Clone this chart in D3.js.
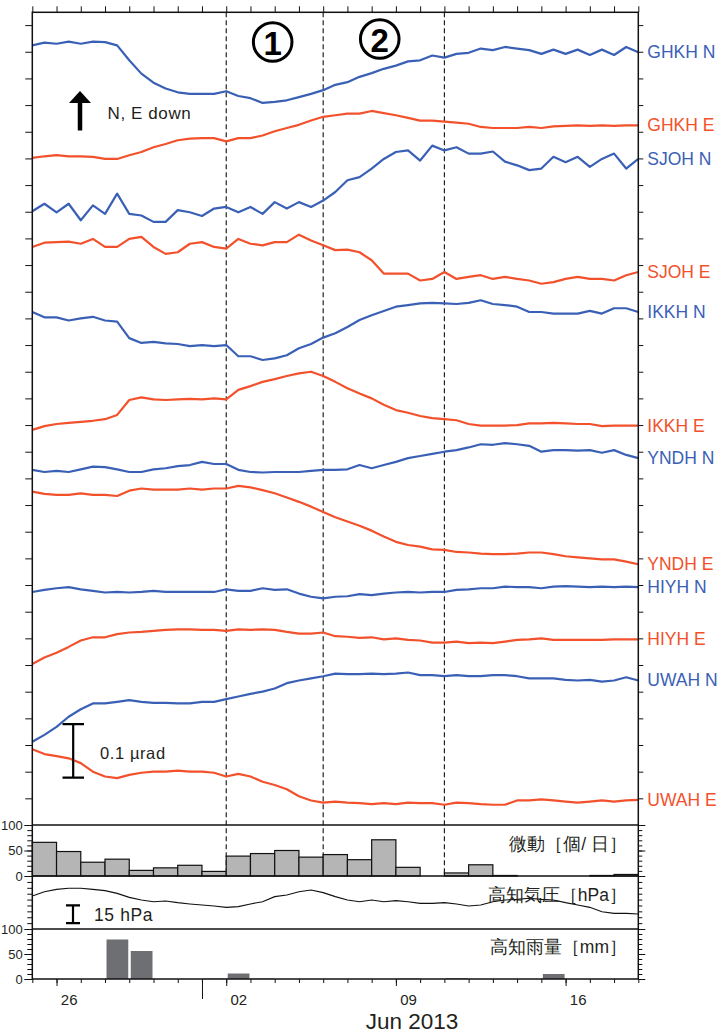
<!DOCTYPE html>
<html><head><meta charset="utf-8">
<script src="https://cdn.jsdelivr.net/npm/d3@7"></script>
<style>
body{margin:0;background:#fff}
svg{display:block}
text{font-family:"Liberation Sans",Arial,Helvetica,sans-serif}
</style>
</head><body>
<svg id="chart" width="724" height="1034"></svg>
<script>
// ---------------- DATA ----------------
// time axis: 2013-05-25 00:00 UTC .. 2013-06-19 00:00, samples every 0.5 day
const startDate = Date.UTC(2013, 4, 25);
const endDate = Date.UTC(2013, 5, 19);
const stepDays = 0.5;

// tilt records (nrad, stacked with offsets as plotted)
const GHKH_N = [1462,1467,1465,1469,1465,1469,1468,1462,1434,1409,1392,1381,1374,1371,1371,1371,1376,1367,1363,1354,1356,1359,1365,1371,1378,1388,1393,1403,1410,1418,1424,1432,1434,1443,1439,1446,1448,1456,1453,1459,1456,1453,1446,1454,1446,1454,1444,1454,1444,1459,1449];
const GHKH_E = [1251,1254,1256,1254,1254,1253,1249,1249,1256,1262,1271,1277,1284,1287,1288,1288,1282,1288,1288,1293,1301,1307,1313,1321,1328,1331,1334,1334,1339,1335,1331,1326,1321,1321,1319,1317,1315,1309,1307,1307,1307,1309,1307,1310,1311,1312,1311,1312,1311,1312,1312];
const SJOH_N = [1151,1165,1149,1165,1134,1162,1146,1184,1146,1143,1131,1131,1153,1149,1142,1156,1159,1149,1159,1146,1168,1156,1168,1159,1171,1187,1209,1215,1231,1249,1262,1265,1246,1274,1265,1271,1259,1259,1263,1244,1237,1228,1231,1253,1243,1253,1234,1249,1259,1231,1249];
const SJOH_E = [1084,1092,1093,1094,1090,1099,1084,1084,1099,1103,1084,1071,1074,1090,1093,1084,1081,1099,1090,1087,1093,1093,1107,1096,1087,1078,1079,1074,1059,1034,1034,1034,1021,1024,1037,1024,1028,1031,1024,1028,1024,1021,1015,1018,1024,1028,1024,1024,1021,1031,1037];
const IKKH_N = [962,952,952,946,950,953,946,944,913,904,906,903,902,898,900,898,900,879,879,872,875,881,894,902,914,922,934,947,956,964,972,975,978,979,978,977,979,984,977,975,972,962,962,959,959,959,964,959,969,969,962];
const IKKH_E = [741,748,752,754,756,758,761,769,797,802,798,797,798,799,798,800,798,816,823,831,836,842,847,850,842,831,819,809,800,788,778,773,767,763,761,759,752,749,749,749,750,753,753,754,753,752,752,748,749,749,749];
const YNDH_N = [666,662,664,662,667,672,671,667,662,662,667,669,673,675,681,677,677,666,662,661,662,662,662,664,666,666,667,675,669,675,681,688,692,696,700,703,708,714,713,716,714,711,700,703,703,702,703,698,703,694,688];
const YNDH_E = [625,621,619,619,622,619,619,617,627,631,629,629,629,631,629,631,631,636,633,628,622,614,606,597,587,577,569,561,552,541,531,525,522,517,516,512,511,509,508,508,509,511,511,508,504,502,500,498,498,494,489];
const HIYH_N = [437,441,444,446,442,439,436,437,436,437,439,437,437,437,437,437,442,439,439,444,441,442,434,428,425,428,429,433,431,434,436,437,436,437,437,441,442,444,444,447,446,446,444,447,448,447,446,447,446,447,446];
const HIYH_E = [302,314,323,334,346,352,352,358,361,362,364,366,367,367,366,366,364,367,366,367,366,362,359,359,361,354,353,351,352,348,350,347,346,342,342,344,341,342,341,344,347,348,350,347,347,347,347,347,348,348,348];
const UWAH_N = [156,169,184,203,217,228,228,231,234,231,229,229,228,228,231,231,236,241,246,250,256,266,271,275,279,284,283,283,284,283,284,286,281,281,279,281,279,279,281,281,279,275,275,275,272,271,272,269,271,277,271];
const UWAH_E = [142,133,129,125,116,100,91,88,94,98,100,100,102,100,100,98,91,96,91,81,75,67,54,46,42,44,42,41,39,41,39,42,41,41,38,42,41,39,38,38,46,46,48,46,44,42,44,46,44,46,47];

const seriesNames = ["GHKH N","GHKH E","SJOH N","SJOH E","IKKH N","IKKH E","YNDH N","YNDH E","HIYH N","HIYH E","UWAH N","UWAH E"];
const seriesValues = [GHKH_N,GHKH_E,SJOH_N,SJOH_E,IKKH_N,IKKH_E,YNDH_N,YNDH_E,HIYH_N,HIYH_E,UWAH_N,UWAH_E];

// daily tremor counts (May 25 .. Jun 18)
const tremorCounts = [66,48,27,33,11,16,21,9,39,44,50,37,42,32,71,17,0,6,22,1,0,0,0,1,3];
// Kochi air pressure (hPa), every 0.5 day
const pressure = [1008.1,1011.7,1013.7,1014.6,1014.6,1013.7,1012.6,1010.3,1006.9,1004.7,1003.2,1003.8,1002.4,1001.3,1000.4,999.6,998.4,999.0,1001.3,1003.2,1007.5,1008.9,1011.7,1013.2,1010.9,1007.5,1004.7,1003.2,1004.7,1003.2,1004.1,1003.2,1001.8,1001.8,1002.4,1001.3,999.6,1000.4,1003.2,1004.7,1005.2,1006.1,1005.2,1004.7,1002.4,1000.4,998.4,994.7,993.3,993.3,992.8];
// Kochi daily rainfall (mm)
const rainfall = [0,0,0,79,56,0,0,0.8,11,0.8,0,0,0,0,0,0.8,0,1.5,0,0,0,10,0,0,0];

const eventDates = [Date.UTC(2013,5,2), Date.UTC(2013,5,6), Date.UTC(2013,5,11)];
const eventLabels = ["1","2"];
const tickLabelDays = [Date.UTC(2013,4,26), Date.UTC(2013,5,2), Date.UTC(2013,5,9), Date.UTC(2013,5,16)];
const monthLabel = "Jun 2013";
const panelTitles = ["微動［個/ 日］","高知気圧［hPa］","高知雨量［mm］"];

// ---------------- LAYOUT ----------------
const L = 32.3, R = 638.3, T = 12.3, mainB = 825, tremB = 876, presB = 929, rainB = 979;
const BLUE = "#3a60b6", RED = "#f2512c", INK = "#231f20";
const DAY = 86400000;

const svg = d3.select("#chart");
const x = d3.scaleUtc().domain([new Date(startDate), new Date(endDate)]).range([L, R]);
const y = d3.scaleLinear().domain([0, 1524]).range([mainB, T]);
const yT = d3.scaleLinear().domain([0, 100]).range([tremB, mainB]);
const yP = d3.scaleLinear().domain([980, 1025.05]).range([presB, tremB]);
const yR = d3.scaleLinear().domain([0, 100]).range([rainB, presB]);
const tAt = i => new Date(startDate + i * stepDays * DAY);

// ---------- dashed event lines ----------
svg.append("g").selectAll("line").data(eventDates).join("line")
  .attr("x1", d => x(new Date(d))).attr("x2", d => x(new Date(d)))
  .attr("y1", T).attr("y2", tremB)
  .attr("stroke", "#111").attr("stroke-width", 1.1).attr("stroke-dasharray", "5,3");

// ---------- tilt traces ----------
const line = d3.line().x((d, i) => x(tAt(i))).y(d => y(d));
seriesNames.forEach((name, k) => {
  const vals = seriesValues[k];
  const col = name.endsWith("N") ? BLUE : RED;
  svg.append("path").attr("d", line(vals)).attr("fill", "none")
    .attr("stroke", col).attr("stroke-width", 2.2).attr("stroke-linejoin", "round");
  svg.append("text").attr("x", R + 9).attr("y", y(vals[vals.length - 1]))
    .attr("dominant-baseline", "central").attr("fill", col)
    .attr("font-size", 17.5).text(name);
});

// ---------- tremor bars ----------
const days = d3.range(tremorCounts.length).map(i => startDate + i * DAY);
svg.append("g").selectAll("rect").data(tremorCounts.map((v, i) => ({v, d: days[i]})).filter(o => o.v > 0)).join("rect")
  .attr("x", o => x(new Date(o.d))).attr("width", o => x(new Date(o.d + DAY)) - x(new Date(o.d)))
  .attr("y", o => yT(o.v)).attr("height", o => yT(0) - yT(o.v))
  .attr("fill", "#b5b5b5").attr("stroke", "#111").attr("stroke-width", 1.2);

// ---------- pressure ----------
const pline = d3.line().x((d, i) => x(tAt(i))).y(d => yP(d));
svg.append("path").attr("d", pline(pressure)).attr("fill", "none")
  .attr("stroke", "#111").attr("stroke-width", 1.1);

// ---------- rain bars ----------
svg.append("g").selectAll("rect").data(rainfall.map((v, i) => ({v, d: days[i]})).filter(o => o.v > 0)).join("rect")
  .attr("x", o => x(new Date(o.d)) + 1.5).attr("width", o => x(new Date(o.d + DAY)) - x(new Date(o.d)) - 2.5)
  .attr("y", o => yR(o.v)).attr("height", o => yR(0) - yR(o.v))
  .attr("fill", "#6e6f73");

// ---------- axes ----------
function noLabels(g){ g.select(".domain").remove(); g.selectAll("line").attr("stroke", "#111"); }
const dayTicks = d3.utcDay.range(new Date(startDate), new Date(endDate + 1));
// top
svg.append("g").attr("transform", `translate(0,${T})`)
  .call(d3.axisTop(x).tickValues(dayTicks).tickSize(6).tickFormat("")).call(noLabels);
// bottom daily
svg.append("g").attr("transform", `translate(0,${rainB})`)
  .call(d3.axisBottom(x).tickValues(dayTicks).tickSize(4).tickFormat("")).call(noLabels);
svg.append("g").attr("transform", `translate(0,${rainB})`)
  .call(d3.axisBottom(x).tickValues(tickLabelDays.map(d => new Date(d))).tickSize(7).tickFormat("")).call(noLabels);
svg.append("g").attr("transform", `translate(0,${rainB})`)
  .call(d3.axisBottom(x).tickValues([new Date(Date.UTC(2013,5,1))]).tickSize(20).tickFormat("")).call(noLabels);
// bottom labels at noon
const lab = svg.append("g").attr("transform", `translate(0,${rainB})`)
  .call(d3.axisBottom(x).tickValues(tickLabelDays.map(d => new Date(d + DAY / 2))).tickSize(0).tickPadding(15)
    .tickFormat(d3.utcFormat("%d")));
lab.select(".domain").remove();
lab.selectAll("text").attr("font-size", 15).attr("fill", INK).attr("font-family", '"Liberation Sans",Arial,sans-serif');
svg.append("text").attr("x", x(new Date(Date.UTC(2013,5,9,16)))).attr("y", 1029)
  .attr("text-anchor", "middle").attr("font-size", 22.5).attr("fill", INK).text(monthLabel);

// main left/right
const tiltTicks = d3.range(0, 1524, 50);
svg.append("g").attr("transform", `translate(${L},0)`)
  .call(d3.axisLeft(y).tickValues(tiltTicks).tickSize(7).tickFormat("")).call(noLabels);
svg.append("g").attr("transform", `translate(${R},0)`)
  .call(d3.axisRight(y).tickValues(tiltTicks).tickSize(5).tickFormat("")).call(noLabels);

// sub panels
function subAxes(scale, minor, major, labelled){
  svg.append("g").attr("transform", `translate(${L},0)`)
    .call(d3.axisLeft(scale).tickValues(minor).tickSize(5).tickFormat("")).call(noLabels);
  svg.append("g").attr("transform", `translate(${R},0)`)
    .call(d3.axisRight(scale).tickValues(minor).tickSize(4).tickFormat("")).call(noLabels);
  if (major) {
    const g = svg.append("g").attr("transform", `translate(${L},0)`)
      .call(d3.axisLeft(scale).tickValues(major).tickSize(8).tickPadding(1.5)
        .tickFormat(labelled ? d3.format("d") : ""));
    g.select(".domain").remove();
    g.selectAll("line").attr("stroke", "#111");
    g.selectAll("text").attr("font-size", 13).attr("fill", INK).attr("font-family", '"Liberation Sans",Arial,sans-serif');
    svg.append("g").attr("transform", `translate(${R},0)`)
      .call(d3.axisRight(scale).tickValues(major).tickSize(7).tickFormat("")).call(noLabels);
  }
}
subAxes(yT, d3.range(10, 100, 10), [0, 50, 100], true);
subAxes(yP, d3.range(985, 1025, 5), null, false);
subAxes(yR, d3.range(10, 100, 10), [0, 50, 100], true);

// frame and separators
svg.append("rect").attr("x", L).attr("y", T).attr("width", R - L).attr("height", rainB - T)
  .attr("fill", "none").attr("stroke", "#111").attr("stroke-width", 1.5);
[mainB, tremB, presB].forEach(v => svg.append("line").attr("x1", L).attr("x2", R)
  .attr("y1", v).attr("y2", v).attr("stroke", "#111").attr("stroke-width", 1.5));

// panel titles
[[panelTitles[0], 850], [panelTitles[1], 901], [panelTitles[2], 953]].forEach(([t, yy]) =>
  svg.append("text").attr("x", 627).attr("y", yy).attr("text-anchor", "end")
    .attr("font-family", '"Noto Sans CJK JP",sans-serif').attr("font-size", 17.5).attr("fill", INK).text(t));

// ---------- annotations ----------
// north arrow
const ax = 80;
svg.append("line").attr("x1", ax).attr("x2", ax).attr("y1", 130.5).attr("y2", 100)
  .attr("stroke", "#000").attr("stroke-width", 4.5);
svg.append("path").attr("d", `M${ax},91 L${ax - 11},103 L${ax + 11},103 Z`).attr("fill", "#000");
svg.append("text").attr("x", 107.5).attr("y", 119.3).attr("font-size", 17).attr("letter-spacing", 0.6)
  .attr("fill", INK).text("N, E down");

// 0.1 µrad scale bar
const sb0 = 89, sb1 = 189;
svg.append("path").attr("d", `M62.5,${y(sb1)}H84M73.2,${y(sb1)}V${y(sb0)}M62.5,${y(sb0)}H84`)
  .attr("stroke", "#000").attr("stroke-width", 2.2).attr("fill", "none");
svg.append("text").attr("x", 100).attr("y", 758.5).attr("font-size", 16.5).attr("letter-spacing", 0.6)
  .attr("fill", INK).text("0.1 µrad");

// 15 hPa scale bar
const pb0 = 985, pb1 = 1000;
svg.append("path").attr("d", `M66,${yP(pb1)}H80M73,${yP(pb1)}V${yP(pb0)}M66,${yP(pb0)}H80`)
  .attr("stroke", "#000").attr("stroke-width", 2.2).attr("fill", "none");
svg.append("text").attr("x", 94).attr("y", 921).attr("font-size", 17.5).attr("letter-spacing", 0.6)
  .attr("fill", INK).text("15 hPa");

// circled period numbers
const circ = [[x(new Date(Date.UTC(2013,5,3,22))), 42], [x(new Date(Date.UTC(2013,5,8,8))), 39]];
circ.forEach(([cx, cy], k) => {
  svg.append("circle").attr("cx", cx).attr("cy", cy).attr("r", 19.3)
    .attr("fill", "none").attr("stroke", "#000").attr("stroke-width", 3);
  svg.append("text").attr("x", cx).attr("y", cy + 1).attr("text-anchor", "middle")
    .attr("dominant-baseline", "central").attr("font-size", 33).attr("font-weight", "bold")
    .attr("fill", "#000").text(eventLabels[k]);
});
</script>
</body></html>
